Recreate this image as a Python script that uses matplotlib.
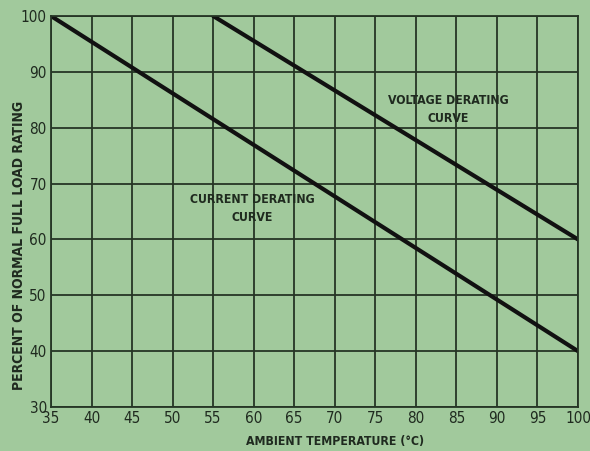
import matplotlib.pyplot as plt
import numpy as np

plt.rcParams["font.family"] = ["DejaVu Sans"]
plt.rcParams["font.stretch"] = "condensed"

temperatura = [35, 100]
corrente = [100, 40]
temperatura_tensao = [55, 100]
tensao = [100, 60]

x_ticks = list(range(35, 101, 5))
y_ticks = list(range(30, 101, 10))

fundo = "#a1c99c"
tinta = "#1f2a1f"

fig = plt.figure(figsize=(5.9, 4.51), dpi=100, facecolor=fundo)
ax = fig.add_axes([0.0864, 0.0976, 0.8932, 0.867])
ax.set_facecolor(fundo)

ax.plot(temperatura, corrente, color="#111111", linewidth=3, solid_capstyle="round")
ax.plot(temperatura_tensao, tensao, color="#111111", linewidth=3, solid_capstyle="round")

ax.set_xlim(35, 100)
ax.set_ylim(30, 100)
ax.set_xticks(x_ticks)
ax.set_yticks(y_ticks)
ax.tick_params(length=0, labelsize=11, colors=tinta, pad=3)
ax.grid(color="#253525", linewidth=1.3)
for s in ax.spines.values():
    s.set_color("#253525")
    s.set_linewidth(1.3)

ax.text(84, 83.2, "VOLTAGE DERATING\nCURVE", ha="center", va="center",
        fontsize=8.8, fontweight="bold", color=tinta, linespacing=1.5)
ax.text(59.8, 65.6, "CURRENT DERATING\nCURVE", ha="center", va="center",
        fontsize=8.8, fontweight="bold", color=tinta, linespacing=1.5)

ax.set_xlabel("AMBIENT TEMPERATURE (°C)", fontsize=8.8, fontweight="bold", color=tinta)
ax.xaxis.set_label_coords(0.539, -0.072)
ax.set_ylabel("PERCENT OF NORMAL FULL LOAD RATING", fontsize=10, fontweight="bold", color=tinta)
ax.yaxis.set_label_coords(-0.047, 0.414)

fig.savefig("out.png", dpi=100, facecolor=fundo)
plt.close(fig)
